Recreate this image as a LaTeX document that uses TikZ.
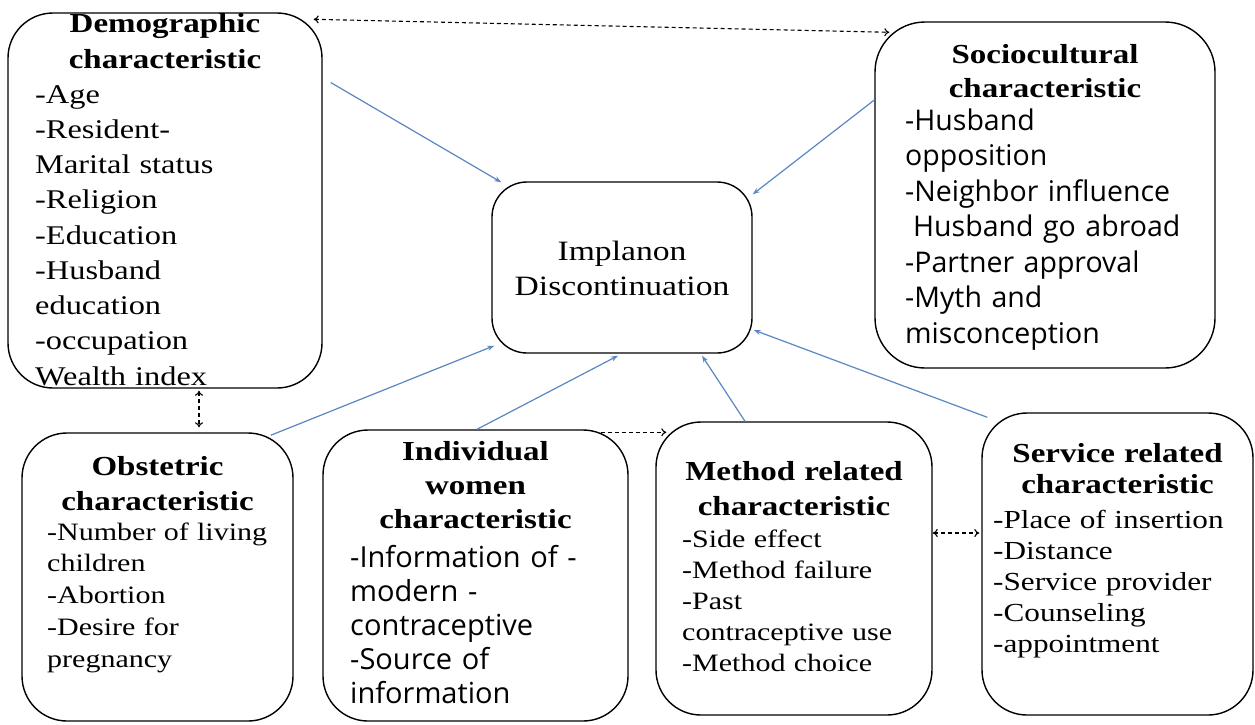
\documentclass[tikz,border=0pt]{standalone}
\usepackage{fontspec}
\usetikzlibrary{arrows.meta}
\newfontfamily\serifx{Liberation Serif}[FakeStretch=1.2]
\newfontfamily\sansx{Open Sans}
\definecolor{lineblue}{RGB}{90,135,195}
\newcommand{\hdfont}[1]{\serifx\bfseries\fontsize{27.5}{#1}\selectfont}
\newcommand{\sbody}[2]{\serifx\fontsize{#1}{#2}\selectfont}
\newcommand{\ssbody}[2]{\sansx\fontsize{#1}{#2}\selectfont}
\tikzset{
  box/.style={draw=black, line width=1.4pt, rounded corners=#1, inner sep=0pt},
  box/.default=45pt,
  head/.style={inner sep=0pt, anchor=base, align=center, text width=300pt},
  body/.style={inner sep=0pt, anchor=base west, align=left, text width=320pt},
  bluearrow/.style={draw=lineblue, line width=1.2pt, -{Stealth[length=7pt,width=5pt]}},
  dasharrow/.style={draw=black, line width=1.1pt, dash pattern=on 4pt off 3pt},
  otip/.tip={To[length=5pt,width=8pt]},
}
\begin{document}
\begin{tikzpicture}[x=1pt,y=-1pt]
\useasboundingbox[fill=white] (0,0) rectangle (1255,724);

% boxes
\node[box, minimum width=314pt, minimum height=375pt] (demo) at (165,200.5) {};
\node[box=50pt, minimum width=340pt, minimum height=346pt] (socio) at (1045,195) {};
\node[box=35pt, minimum width=260pt, minimum height=171pt] (impl) at (622,267.5) {};
\node[box, minimum width=271pt, minimum height=288pt] (obst) at (157.5,577) {};
\node[box, minimum width=305pt, minimum height=291pt] (indiv) at (475.5,575.5) {};
\node[box, minimum width=276pt, minimum height=293pt] (meth) at (794,568.5) {};
\node[box, minimum width=271pt, minimum height=302pt] (serv) at (1117.5,564) {};

% texts
\node[head, font=\hdfont{36}] (demoH) at (165,32) {Demographic\\characteristic};
\node[body, font=\sbody{27}{35.25}] (demoB) at (35,103) {-Age\\-Resident-\\Marital status\\-Religion\\-Education\\-Husband\\education\\-occupation\\Wealth index};

\node[head, font=\hdfont{34}] (socioH) at (1045,63) {Sociocultural\\characteristic};
\node[body, font=\ssbody{28.5}{35.5}] (socioB) at (905,130) {-Husband\\opposition\\-Neighbor influence\\\hspace*{8pt}Husband go abroad\\-Partner approval\\-Myth and\\misconception};

\node[head, font=\sbody{28}{35}] (implT) at (622,260) {Implanon\\Discontinuation};

\node[head, font=\hdfont{35}] (obstH) at (157.5,475) {Obstetric\\characteristic};
\node[body, font=\sbody{25}{31.75}] (obstB) at (47,540) {-Number of living\\children\\-Abortion\\-Desire for\\pregnancy};

\node[head, font=\hdfont{34}] (indivH) at (475.5,460) {Individual\\women\\characteristic};
\node[body, font=\ssbody{29}{34}] (indivB) at (350,567) {-Information of -\\modern -\\contraceptive\\-Source of\\information};

\node[head, font=\hdfont{35}] (methH) at (794,480) {Method related\\characteristic};
\node[body, font=\sbody{25}{31.2}] (methB) at (682,547) {-Side effect\\-Method failure\\-Past\\contraceptive use\\-Method choice};

\node[head, font=\hdfont{31}] (servH) at (1117.5,462) {Service related\\characteristic};
\node[body, font=\sbody{26}{31}] (servB) at (993,528) {-Place of insertion\\-Distance\\-Service provider\\-Counseling\\-appointment};

% blue arrows
\draw[bluearrow] ([xshift=8pt,yshift=118pt]demo.east) -- ([xshift=10pt,yshift=-1pt]impl.north west);
\draw[bluearrow] ([yshift=95pt]socio.west) -- ([yshift=-13pt]impl.north east);
\draw[bluearrow] ([xshift=-23pt,yshift=-3pt]obst.north east) -- ([xshift=3pt,yshift=8pt]impl.south west);
\draw[bluearrow] ([xshift=1.5pt]indiv.north) -- ([xshift=-4pt,yshift=-2pt]impl.south);
\draw[bluearrow] ([xshift=-49pt]meth.north) -- ([xshift=80pt,yshift=-2pt]impl.south);
\draw[bluearrow] ([xshift=6pt,yshift=-5pt]serv.north west) -- ([xshift=1pt,yshift=-62.5pt]impl.east);

% dashed arrows
\draw[dasharrow, otip-otip] ([xshift=-9pt,yshift=-7pt]demo.north east) -- ([xshift=15pt,yshift=-11pt]socio.north west);
\draw[dasharrow, otip-otip] ([xshift=34pt,yshift=-2pt]demo.south) -- ([xshift=41.5pt,yshift=5pt]obst.north);
\draw[dasharrow, -otip] ([xshift=-28pt,yshift=-3pt]indiv.north east) -- ([xshift=11pt,yshift=-11pt]meth.north west);
\draw[dasharrow, otip-otip] ([yshift=35.5pt]meth.east) -- ([xshift=-2pt,yshift=31pt]serv.west);
\end{tikzpicture}
\end{document}
